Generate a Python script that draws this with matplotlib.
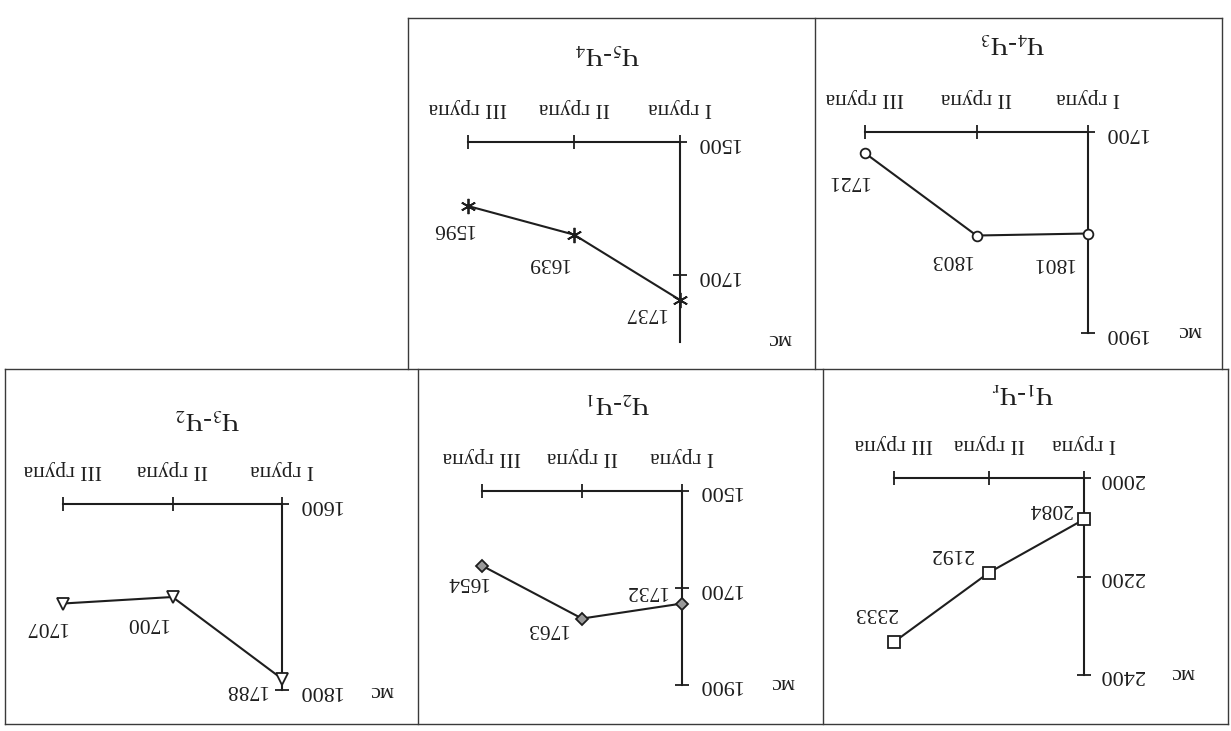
import matplotlib
matplotlib.use('Agg')
import matplotlib.pyplot as plt
from matplotlib.lines import Line2D

plt.rcParams['font.family'] = ['Liberation Serif', 'DejaVu Serif']
plt.rcParams['mathtext.fontset'] = 'stix'

W, H = 1231, 731
INK = '#1e1e1e'

# ---------------- data ----------------
categories = ['I група', 'II група', 'III група']
unit_label = 'мс'

titles = ['Ч$_1$-Ч$_\\mathrm{r}$', 'Ч$_2$-Ч$_1$', 'Ч$_3$-Ч$_2$',
          'Ч$_4$-Ч$_3$', 'Ч$_5$-Ч$_4$']
v_ch1_chr = [2084, 2192, 2333]
v_ch2_ch1 = [1732, 1763, 1654]
v_ch3_ch2 = [1788, 1700, 1707]
v_ch4_ch3 = [1801, 1803, 1721]
v_ch5_ch4 = [1737, 1639, 1596]
series = [v_ch1_chr, v_ch2_ch1, v_ch3_ch2, v_ch4_ch3, v_ch5_ch4]
y_ranges = [(2000, 2400), (1500, 1900), (1600, 1800), (1700, 1900), (1500, 1800)]
y_ticks = [[2000, 2200, 2400], [1500, 1700, 1900], [1600, 1800],
           [1700, 1900], [1500, 1700]]

# ---------------- layout (pixels, image is shown rotated 180 degrees) ----------------
layout = [
    dict(box=(894, 478, 1084, 675), title=(1023, 392), unit=(1183, 672),
         marker='s', ms=8, mfc='white',
         offs=[(-34, -11), (-37, -19), (-18, -30)]),
    dict(box=(482, 491, 682, 685), title=(618, 402), unit=(783, 682),
         marker='D', ms=6, mfc='#9a9a9a',
         offs=[(-36, -13), (-35, 10), (-15, 16)]),
    dict(box=(63, 504, 282, 690), title=(207, 418), unit=(382, 690),
         marker='v', ms=9, mfc='white',
         offs=[(-36, 11), (-26, 25), (-17, 23)]),
    dict(box=(865, 132, 1088, 333), title=(1013, 42), unit=(1190, 330),
         marker='o', ms=7, mfc='white',
         offs=[(-35, 29), (-26, 24), (-17, 27)]),
    dict(box=(468, 142, 680, 342), title=(607, 53), unit=(780, 338),
         marker=(6, 2, 0), ms=11, mfc='none',
         offs=[(-35, 12), (-26, 28), (-15, 22)]),
]

fig = plt.figure(figsize=(W / 100, H / 100), dpi=100)
fig.patch.set_facecolor('white')


def fx(x):
    return x / W


def fy(y):
    return 1 - y / H


# panel borders
border_lines = [
    ((408, 18), (1222, 18)),
    ((408, 18), (408, 369)),
    ((815, 18), (815, 369)),
    ((1222, 18), (1222, 369)),
    ((5, 369), (1228, 369)),
    ((5, 369), (5, 724)),
    ((418, 369), (418, 724)),
    ((823, 369), (823, 724)),
    ((1228, 369), (1228, 724)),
    ((5, 724), (1228, 724)),
]
for (x0, y0), (x1, y1) in border_lines:
    fig.add_artist(Line2D([fx(x0), fx(x1)], [fy(y0), fy(y1)],
                          transform=fig.transFigure, color='#3a3a3a', lw=1.0))

for vals, (ymin, ymax), ticks, title, lay in zip(series, y_ranges, y_ticks, titles, layout):
    x0, y0, x1, y1 = lay['box']
    ax = fig.add_axes([fx(x0), fy(y1), (x1 - x0) / W, (y1 - y0) / H])
    ax.patch.set_alpha(0)
    ax.set_xlim(len(categories) - 1, 0)
    ax.set_ylim(ymax, ymin)
    for s in ('left', 'bottom'):
        ax.spines[s].set_visible(False)
    for s in ('top', 'right'):
        ax.spines[s].set_color(INK)
        ax.spines[s].set_linewidth(1.5)
    ax.xaxis.set_ticks_position('top')
    ax.yaxis.set_ticks_position('right')
    ax.set_xticks(range(len(categories)))
    ax.set_xticklabels(categories)
    ax.set_yticks(ticks)
    ax.set_yticklabels([str(t) for t in ticks])
    ax.tick_params(axis='x', direction='inout', length=10, width=1.3, color=INK,
                   labelsize=15.5, labelcolor=INK, labelrotation=180, pad=13)
    ax.tick_params(axis='y', direction='inout', length=10, width=1.3, color=INK,
                   labelsize=16, labelcolor=INK, labelrotation=180, pad=6)
    for lab in ax.get_yticklabels():
        lab.set_verticalalignment('center')

    xs = list(range(len(vals)))
    ax.plot(xs, vals, color=INK, lw=1.5, marker=lay['marker'], ms=lay['ms'],
            mfc=lay['mfc'], mec=INK, mew=1.3, clip_on=False, zorder=3)
    for i, v in enumerate(vals):
        dx, dy = lay['offs'][i]
        ax.annotate(str(v), (i, v), xytext=(dx, -dy), textcoords='offset pixels',
                    rotation=180, ha='center', va='center', fontsize=15.5,
                    color=INK, annotation_clip=False)

    tx, ty = lay['title']
    fig.text(fx(tx), fy(ty), title, rotation=180, ha='center', va='center',
             fontsize=19, color=INK)
    ux, uy = lay['unit']
    fig.text(fx(ux), fy(uy), unit_label, rotation=180, ha='center', va='center',
             fontsize=16, color=INK)

fig.savefig('out.png', dpi=100, facecolor='white')
